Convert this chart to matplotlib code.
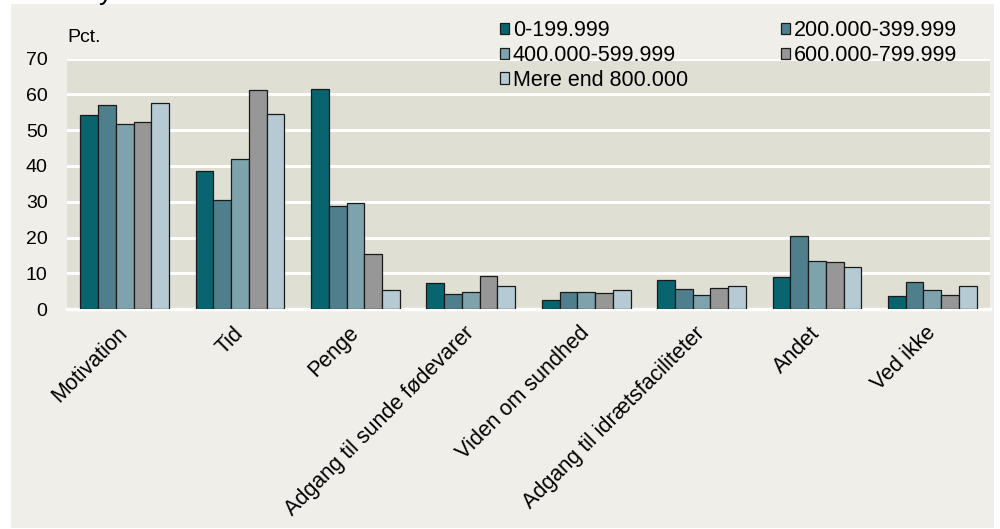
import numpy as np
import matplotlib
matplotlib.use("Agg")
import matplotlib.pyplot as plt
from matplotlib.patches import Rectangle

plt.rcParams['font.family'] = ['Liberation Sans', 'DejaVu Sans']

# Barrierer fordelt på husstandsindkomst (pct.)
categories = ['Motivation', 'Tid', 'Penge', 'Adgang til sunde fødevarer',
              'Viden om sundhed', 'Adgang til idrætsfaciliteter', 'Andet', 'Ved ikke']
groups = ['0-199.999', '200.000-399.999', '400.000-599.999',
          '600.000-799.999', 'Mere end 800.000']

inc_0_199 = [54.2, 38.5, 61.5, 7.3, 2.5, 8.1, 9.0, 3.6]
inc_200_399 = [57.1, 30.4, 28.8, 4.2, 4.7, 5.8, 20.5, 7.5]
inc_400_599 = [51.8, 42.0, 29.6, 4.8, 4.7, 4.0, 13.6, 5.3]
inc_600_799 = [52.4, 61.1, 15.4, 9.4, 4.5, 5.9, 13.3, 3.9]
inc_800_plus = [57.7, 54.5, 5.3, 6.5, 5.3, 6.4, 11.8, 6.4]
series = [inc_0_199, inc_200_399, inc_400_599, inc_600_799, inc_800_plus]

colors = ['#08646f', '#4f7f8c', '#7fa3ac', '#979797', '#b5cad3']
panel_bg = '#efeee8'
plot_bg = '#e0dfd4'

fig = plt.figure(figsize=(10, 5.29), dpi=100, facecolor='white')
W, H = 1000, 529

# beige panel behind everything
fig.patches.append(Rectangle((11 / W, 1 - 528 / H), (994 - 11) / W, (528 - 4) / H,
                             transform=fig.transFigure, facecolor=panel_bg,
                             edgecolor='none', zorder=-10))
# descender of the title line above the panel
fig.text(99 / W, 1 + 1 / H, 'y', fontsize=20, va='baseline', ha='left', color='black')

ax = fig.add_axes([67 / W, 1 - 309.3 / H, (990 - 67) / W, (309.3 - 58.5) / H])
ax.set_facecolor(plot_bg)

n = len(series)
width = 1 / 1.3 / n
x = np.arange(len(categories))
bars = []
for i, (vals, col) in enumerate(zip(series, colors)):
    b = ax.bar(x + (i - (n - 1) / 2) * width, vals, width, color=col,
               edgecolor='#1a1a1a', linewidth=0.9, label=groups[i], zorder=3)
    bars.append(b)

ax.set_xlim(-0.5, len(categories) - 0.5)
ax.set_ylim(0, 70)
ax.set_yticks(range(0, 71, 10))
ax.yaxis.grid(True, color='white', linewidth=2.2, zorder=1)
ax.set_axisbelow(True)
for side in ['top', 'right', 'left']:
    ax.spines[side].set_visible(False)
ax.spines['bottom'].set_color('white')
ax.spines['bottom'].set_linewidth(2.5)
ax.tick_params(axis='both', length=0)
ax.tick_params(axis='y', labelsize=14, pad=14)
ax.set_xticks(x)
ax.set_xticklabels(categories, rotation=45, ha='right', va='center',
                   rotation_mode='anchor', fontsize=15.5)
ax.tick_params(axis='x', pad=15)

fig.text(67 / W, 1 - 38 / H, 'Pct.', fontsize=14, va='center', ha='left')

# legend filled row by row
order = [0, 2, 4, 1, 3]
fig.legend([bars[i] for i in order], [groups[i] for i in order],
           loc='upper left', bbox_to_anchor=(500 / W, 1 - 20 / H), ncol=2,
           frameon=False, fontsize=15.5, handlelength=0.42, handleheight=0.42,
           handletextpad=0.18, columnspacing=4.3, labelspacing=0.18,
           borderpad=0, borderaxespad=0)

fig.savefig('out.png', dpi=100, facecolor=fig.get_facecolor())
